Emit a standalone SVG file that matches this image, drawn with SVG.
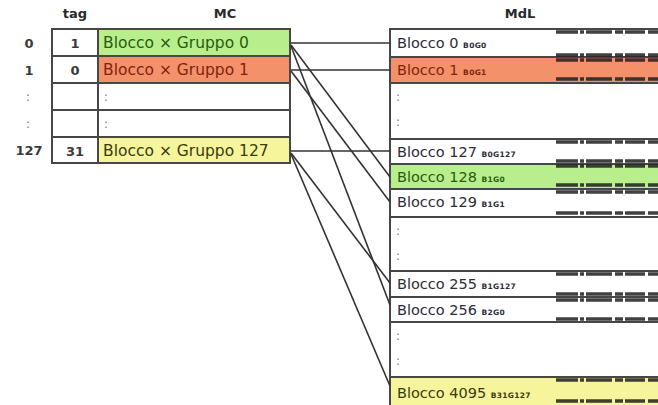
<svg xmlns="http://www.w3.org/2000/svg" width="658" height="405" viewBox="0 0 658 405">
<style>
.t{font-family:"DejaVu Sans",Verdana,sans-serif;fill:#2c2c38}
.h{font-family:"DejaVu Sans",Verdana,sans-serif;font-weight:bold;font-size:13px;fill:#2a2a2a;text-anchor:middle}
.idx{font-size:13px;font-weight:bold;text-anchor:middle;fill:#3a3a3a}
.mc{font-size:15.5px}
.md{font-size:14.5px}
.sm{font-size:7.5px;font-weight:bold;letter-spacing:0.3px}
.dot{font-family:"DejaVu Sans",sans-serif;font-size:12px;fill:#777}
.cell{stroke:#474747;stroke-width:2}
.g{fill:#b8ef8c}.o{fill:#f2916a}.y{fill:#f6f59c}.w{fill:#ffffff}
.tg{fill:#2a5a10}.to{fill:#82240c}.ty{fill:#3a3a10}
.mk{stroke:#1e1e1e;stroke-width:3.5;stroke-dasharray:22 2 4 2 26 3 8 2 20 3 14 2;fill:none;opacity:0.85}
.conn line{stroke:#333;stroke-width:1.6}
</style>
<rect width="658" height="405" fill="#ffffff"/>

<g id="headers">
<text class="h" x="75" y="18">tag</text>
<text class="h" x="225" y="18">MC</text>
<text class="h" x="520" y="18">MdL</text>
</g>

<g id="row-index">
<text class="t idx" x="29" y="48">0</text>
<text class="t idx" x="29" y="75">1</text>
<text class="dot" x="26" y="101">:</text>
<text class="dot" x="26" y="128">:</text>
<text class="t idx" x="29" y="155">127</text>
</g>

<g id="mc-row-0">
<rect class="cell w" x="52" y="29" width="46" height="27"/>
<rect class="cell g" x="98" y="29" width="192" height="27"/>
<text class="t idx" x="75" y="48">1</text>
<text class="t mc tg" x="103" y="48">Blocco × Gruppo 0</text>
</g>
<g id="mc-row-1">
<rect class="cell w" x="52" y="56" width="46" height="27"/>
<rect class="cell o" x="98" y="56" width="192" height="27"/>
<text class="t idx" x="75" y="75">0</text>
<text class="t mc to" x="103" y="75">Blocco × Gruppo 1</text>
</g>
<g id="mc-row-2">
<rect class="cell w" x="52" y="83" width="46" height="27"/>
<rect class="cell w" x="98" y="83" width="192" height="27"/>
<text class="dot" x="104" y="101">:</text>
</g>
<g id="mc-row-3">
<rect class="cell w" x="52" y="110" width="46" height="27"/>
<rect class="cell w" x="98" y="110" width="192" height="27"/>
<text class="dot" x="104" y="128">:</text>
</g>
<g id="mc-row-127">
<rect class="cell w" x="52" y="137" width="46" height="26"/>
<rect class="cell y" x="98" y="137" width="192" height="26"/>
<text class="t idx" x="75" y="156">31</text>
<text class="t mc ty" x="103" y="156">Blocco × Gruppo 127</text>
</g>

<g id="mdl-b0">
<rect class="cell w" x="390" y="29" width="272" height="28"/>
<text class="t md" x="397" y="48">Blocco 0 <tspan class="sm">B0G0</tspan></text>
</g>
<g id="mdl-b1">
<rect class="cell o" x="390" y="57" width="272" height="26"/>
<text class="t md to" x="397" y="75">Blocco 1 <tspan class="sm">B0G1</tspan></text>
</g>
<g id="mdl-gap1">
<rect class="cell w" x="390" y="83" width="272" height="56"/>
<text class="dot" x="396" y="101">:</text>
<text class="dot" x="396" y="126">:</text>
</g>
<g id="mdl-b127">
<rect class="cell w" x="390" y="139" width="272" height="25"/>
<text class="t md" x="397" y="157">Blocco 127 <tspan class="sm">B0G127</tspan></text>
</g>
<g id="mdl-b128">
<rect class="cell g" x="390" y="164" width="272" height="25"/>
<text class="t md tg" x="397" y="182">Blocco 128 <tspan class="sm">B1G0</tspan></text>
</g>
<g id="mdl-b129">
<rect class="cell w" x="390" y="189" width="272" height="28"/>
<text class="t md" x="397" y="207">Blocco 129 <tspan class="sm">B1G1</tspan></text>
</g>
<g id="mdl-gap2">
<rect class="cell w" x="390" y="217" width="272" height="54"/>
<text class="dot" x="396" y="235">:</text>
<text class="dot" x="396" y="260">:</text>
</g>
<g id="mdl-b255">
<rect class="cell w" x="390" y="271" width="272" height="26"/>
<text class="t md" x="397" y="289">Blocco 255 <tspan class="sm">B1G127</tspan></text>
</g>
<g id="mdl-b256">
<rect class="cell w" x="390" y="297" width="272" height="25"/>
<text class="t md" x="397" y="315">Blocco 256 <tspan class="sm">B2G0</tspan></text>
</g>
<g id="mdl-gap3">
<rect class="cell w" x="390" y="322" width="272" height="55"/>
<text class="dot" x="396" y="340">:</text>
<text class="dot" x="396" y="365">:</text>
</g>
<g id="mdl-b4095">
<rect class="cell y" x="390" y="377" width="272" height="32"/>
<text class="t md ty" x="397" y="398">Blocco 4095 <tspan class="sm">B31G127</tspan></text>
</g>

<g id="mdl-marks">
<line class="mk" x1="556" y1="32" x2="658" y2="32"/>
<line class="mk" x1="556" y1="55" x2="658" y2="55"/>
<line class="mk" x1="556" y1="60" x2="658" y2="60"/>
<line class="mk" x1="556" y1="79" x2="658" y2="79"/>
<line class="mk" x1="556" y1="142" x2="658" y2="142"/>
<line class="mk" x1="556" y1="161" x2="658" y2="161"/>
<line class="mk" x1="556" y1="166" x2="658" y2="166"/>
<line class="mk" x1="556" y1="185" x2="658" y2="185"/>
<line class="mk" x1="556" y1="192" x2="658" y2="192"/>
<line class="mk" x1="556" y1="213" x2="658" y2="213"/>
<line class="mk" x1="556" y1="274" x2="658" y2="274"/>
<line class="mk" x1="556" y1="294" x2="658" y2="294"/>
<line class="mk" x1="556" y1="300" x2="658" y2="300"/>
<line class="mk" x1="556" y1="319" x2="658" y2="319"/>
<line class="mk" x1="556" y1="380" x2="658" y2="380"/>
<line class="mk" x1="556" y1="401" x2="658" y2="401"/>
</g>

<g id="connectors" class="conn">
<line x1="291" y1="43" x2="390" y2="43"/>
<line x1="291" y1="70" x2="390" y2="70"/>
<line x1="291" y1="151" x2="390" y2="151"/>
<line x1="291" y1="45" x2="390" y2="177"/>
<line x1="291" y1="46" x2="390" y2="305"/>
<line x1="291" y1="71" x2="390" y2="202"/>
<line x1="291" y1="153" x2="390" y2="283"/>
<line x1="291" y1="154" x2="390" y2="386"/>
</g>
</svg>
